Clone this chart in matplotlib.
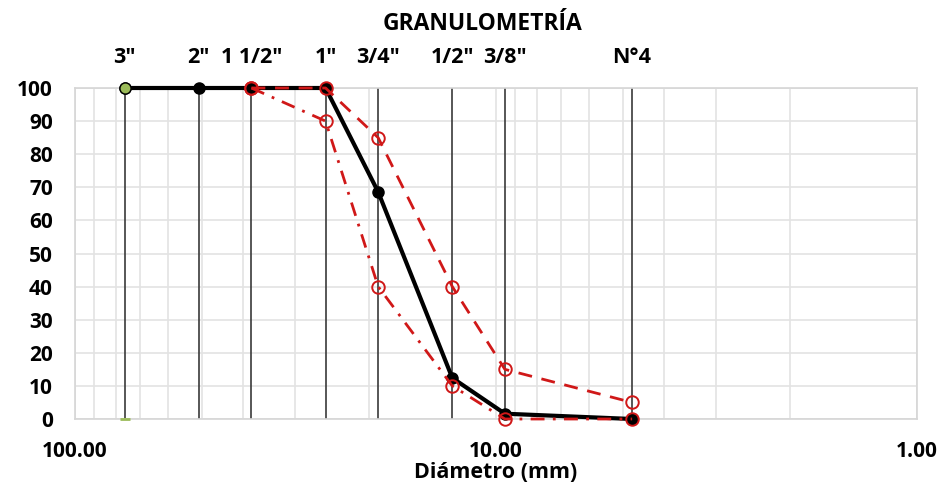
import matplotlib.pyplot as plt
from matplotlib.ticker import FixedLocator, NullFormatter

plt.rcParams['font.family'] = ['Open Sans', 'DejaVu Sans']
plt.rcParams['font.weight'] = 'bold'

# Sieve openings (mm) and their names
sieve_names = ['3"', '2"', '1 1/2"', '1"', '3/4"', '1/2"', '3/8"', 'N°4']
sieve_mm = [76.2, 50.8, 38.1, 25.4, 19.05, 12.7, 9.525, 4.75]

# Percent passing of the sample
passing = [100, 100, 100, 100, 68.6, 12.4, 1.6, 0]

# Specification limits from 1 1/2" down to N°4
limit_mm = [38.1, 25.4, 19.05, 12.7, 9.525, 4.75]
upper_limit = [100, 100, 85, 40, 15, 5]
lower_limit = [100, 90, 40, 10, 0, 0]

fig = plt.figure(figsize=(9.42, 4.88), dpi=100)
ax = fig.add_axes([75 / 942, 1 - 419 / 488, (917 - 75) / 942, (419 - 88) / 488])

ax.set_xscale('log')
ax.set_xlim(100, 1)
ax.set_ylim(0, 100)

# light grid on every log subdivision and every 10 %
minor = [m * 10 ** e for e in (0, 1) for m in range(2, 10)]
ax.xaxis.set_minor_locator(FixedLocator(minor))
ax.xaxis.set_minor_formatter(NullFormatter())
ax.set_xticks([100, 10, 1])
ax.set_xticklabels(['100.00', '10.00', '1.00'])
ax.set_yticks(range(0, 101, 10))
ax.grid(True, which='both', color='#e3e3e3', linewidth=1.2, zorder=0)
for s in ax.spines.values():
    s.set_color('#d6d6d6')
    s.set_linewidth(1.2)
ax.tick_params(axis='both', which='both', length=0, labelsize=15)
ax.tick_params(axis='y', pad=16)
ax.tick_params(axis='x', pad=16)

# vertical line at every sieve with its name above the plot
ax.vlines(sieve_mm, 0, 100, color='#3a3a3a', linewidth=1.2, zorder=2)
for name, d in zip(sieve_names, sieve_mm):
    ax.annotate(name, xy=(d, 1), xycoords=('data', 'axes fraction'),
                xytext=(0, 22), textcoords='offset points',
                ha='center', va='center', fontsize=15.5, fontweight='bold')

ax.plot(sieve_mm, passing, color='black', linewidth=3, marker='o',
        markersize=8, markerfacecolor='black', zorder=4, clip_on=False)
ax.plot(sieve_mm[0], passing[0], marker='o', markersize=8, color='black',
        markerfacecolor='#9bbb59', zorder=5, clip_on=False)
ax.plot(sieve_mm[0], 0, marker='_', markersize=7, color='#9bbb59',
        markeredgewidth=2, zorder=5, clip_on=False)

ax.plot(limit_mm, upper_limit, color='#d01818', linewidth=2.0,
        linestyle=(0, (5, 3.5)), marker='o', markersize=9,
        markerfacecolor='none', markeredgewidth=1.4, zorder=5, clip_on=False)
ax.plot(limit_mm, lower_limit, color='#d01818', linewidth=2.0,
        linestyle=(0, (5, 3, 1, 3)), marker='o', markersize=9,
        markerfacecolor='none', markeredgewidth=1.4, zorder=5, clip_on=False)

ax.set_xlabel('Diámetro (mm)', fontsize=15.5, fontweight='bold', labelpad=0)
fig.text(483 / 942, 1 - 24 / 488, 'GRANULOMETRÍA', ha='center', va='center',
         fontsize=16.5, fontweight='bold')

fig.savefig('out.png', dpi=100)
